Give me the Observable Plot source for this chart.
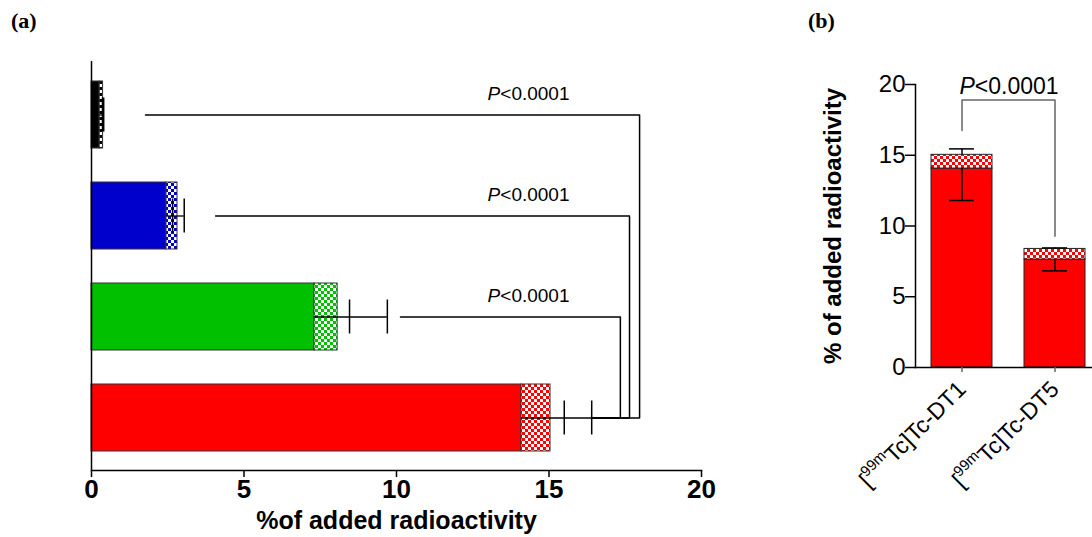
<!DOCTYPE html>
<html><head><meta charset="utf-8">
<script src="https://cdn.jsdelivr.net/npm/d3@7"></script>
<script src="https://cdn.jsdelivr.net/npm/@observablehq/plot@0.6"></script>
<style>
body{margin:0;background:#fff;}
#wrap{position:relative;width:1092px;height:537px;overflow:hidden;background:#fff;}
.panel{position:absolute;top:0;}
.plabel{position:absolute;font-family:"Liberation Serif","DejaVu Serif",serif;font-weight:bold;font-size:22px;color:#000;}
#pa svg g[aria-label="x-axis tick label"] text{font-weight:bold;font-size:26px;}
#pa svg g[aria-label="x-axis label"] text{font-weight:bold;font-size:25px;}
#pb svg g[aria-label="y-axis label"] text{font-weight:bold;font-size:24px;}
</style></head><body>
<div id="wrap">
  <div class="plabel" style="left:11px;top:8px">(a)</div>
  <div class="plabel" style="left:808px;top:8px">(b)</div>
  <div id="pa" class="panel" style="left:0"></div>
  <div id="pb" class="panel" style="left:760px"></div>
</div>
<script>
// ---------- Panel (a) data ----------
const rowsA = ["Row 1", "Row 2", "Row 3", "Row 4"];           // top to bottom
const colorsA = ["#000000", "#0000cc", "#00c000", "#ff0000"];
const solidA = [0.27, 2.46, 7.31, 14.1];
const totalA = [0.38, 2.82, 8.07, 15.05];
const errInnerA = [0.36, 2.66, 8.46, 15.5];
const errOuterA = [0.40, 3.04, 9.7, 16.4];
const bracketFromA = [1.77, 4.07, 10.13];
const bracketToA = [17.97, 17.64, 17.34];
const pTextA = "P<0.0001";
const pLabelXA = 14.33;
const xTicksA = [0, 5, 10, 15, 20];
const xTitleA = "%of added radioactivity";

// ---------- Panel (b) data ----------
const catsB = ["[99mTc]Tc-DT1", "[99mTc]Tc-DT5"];
const solidB = [14.06, 7.63];
const totalB = [15.03, 8.38];
const errLowB = [11.8, 6.83];
const errHighB = [15.45, 8.45];
const bracketXB = [catsB[0], catsB[0], catsB[1], catsB[1]];
const bracketYB = [16.75, 18.9, 18.9, 9.28];
const pTextB = "P<0.0001";
const pLabelYB = 19.85;
const yTicksB = [0, 5, 10, 15, 20];
const yTitleB = "% of added radioactivity";

// ---------- helpers ----------
function addPatterns(svg, list) {
  const ns = "http://www.w3.org/2000/svg";
  const defs = document.createElementNS(ns, "defs");
  let html = "";
  for (const {id, color} of list) {
    html += `<pattern id="${id}" width="6" height="6" patternUnits="userSpaceOnUse">` +
      `<rect width="6" height="6" fill="#fff"/>` +
      `<rect width="3" height="3" fill="${color}"/>` +
      `<rect x="3" y="3" width="3" height="3" fill="${color}"/></pattern>`;
  }
  defs.innerHTML = html;
  svg.insertBefore(defs, svg.firstChild);
}
function italicP(svg, txt) {
  d3.select(svg).selectAll("text").each(function() {
    if (this.textContent === txt) {
      const sel = d3.select(this);
      sel.text(null);
      sel.append("tspan").attr("font-style", "italic").text(txt[0]);
      sel.append("tspan").text(txt.slice(1));
    }
  });
}

// ---------- Panel (a) ----------
const A = rowsA.map((r, i) => ({
  row: r, color: colorsA[i], pat: `url(#chkA${i})`,
  solid: solidA[i], total: totalA[i], inner: errInnerA[i], outer: errOuterA[i]
}));
const bracketsA = bracketFromA.flatMap((x0, i) => [
  {g: i, x: x0, y: rowsA[i]},
  {g: i, x: bracketToA[i], y: rowsA[i]},
  {g: i, x: bracketToA[i], y: rowsA[3]},
  {g: i, x: errOuterA[3], y: rowsA[3]}
]);
const pLabelsA = rowsA.slice(0, 3).map(r => ({row: r, x: pLabelXA, t: pTextA}));

const svgA = Plot.plot({
  width: 760, height: 537,
  marginLeft: 91, marginRight: 59, marginTop: 61, marginBottom: 67,
  style: {fontFamily: "'Liberation Sans', Arial, sans-serif", background: "transparent", overflow: "visible", color: "#000"},
  x: {domain: [0, 20]},
  y: {domain: rowsA, paddingInner: 0.34, paddingOuter: 0.18, axis: null},
  color: {type: "identity"},
  marks: [
    Plot.barX(A, {y: "row", x: "solid", fill: "color", stroke: "#333", strokeWidth: 1}),
    Plot.barX(A, {y: "row", x1: "solid", x2: "total", fill: "pat", stroke: "#333", strokeWidth: 1}),
    Plot.ruleY(A, {y: "row", x1: "solid", x2: "outer", stroke: "#000", strokeWidth: 1.3}),
    Plot.tickX(A, {y: "row", x: "inner", insetTop: 16.5, insetBottom: 16.5, stroke: "#000", strokeWidth: 1.5}),
    Plot.tickX(A, {y: "row", x: "outer", insetTop: 16.5, insetBottom: 16.5, stroke: "#000", strokeWidth: 1.5}),
    Plot.line(bracketsA, {x: "x", y: "y", z: "g", stroke: "#000", strokeWidth: 1.5}),
    Plot.text(pLabelsA, {x: "x", y: "row", text: "t", dy: -21, fontSize: 19, fill: "#000"}),
    Plot.ruleX([0], {stroke: "#000", strokeWidth: 1.5}),
    Plot.frame({anchor: "bottom", stroke: "#000", strokeWidth: 1.5}),
    Plot.axisX({ticks: xTicksA, tickSize: 7, tickPadding: 2, fontSize: 26, strokeWidth: 1.5,
      label: xTitleA, labelAnchor: "center", labelOffset: 58, labelArrow: "none"})
  ]
});
addPatterns(svgA, colorsA.map((c, i) => ({id: `chkA${i}`, color: c})));
italicP(svgA, pTextA);
document.getElementById("pa").appendChild(svgA);

// ---------- Panel (b) ----------
const B = catsB.map((c, i) => ({
  cat: c, fill: "#ff0000", pat: "url(#chkB)",
  solid: solidB[i], total: totalB[i], low: errLowB[i], high: errHighB[i]
}));
const bracketB = bracketXB.map((x, i) => ({x, y: bracketYB[i]}));

const svgB = Plot.plot({
  width: 332, height: 537,
  marginLeft: 155, marginRight: 0, marginTop: 84, marginBottom: 170,
  style: {fontFamily: "'Liberation Sans', Arial, sans-serif", background: "transparent", overflow: "visible", color: "#000"},
  x: {domain: catsB, range: [155, 341], paddingInner: 0.34, paddingOuter: 0.16},
  y: {domain: [0, 20]},
  color: {type: "identity"},
  marks: [
    Plot.barY(B, {x: "cat", y: "solid", fill: "fill", stroke: "#222", strokeWidth: 1}),
    Plot.barY(B, {x: "cat", y1: "solid", y2: "total", fill: "pat", stroke: "#222", strokeWidth: 1}),
    Plot.ruleX(B, {x: "cat", y1: "low", y2: "solid", stroke: "#000", strokeWidth: 1.5}),
    Plot.ruleX(B, {x: "cat", y1: "total", y2: "high", stroke: "#000", strokeWidth: 1.5}),
    Plot.tickY(B, {x: "cat", y: "low", insetLeft: 18, insetRight: 18, stroke: "#000", strokeWidth: 1.5}),
    Plot.tickY(B, {x: "cat", y: "high", insetLeft: 18, insetRight: 18, stroke: "#000", strokeWidth: 1.5}),
    Plot.line(bracketB, {x: "x", y: "y", stroke: "#666", strokeWidth: 1.5}),
    Plot.text([{x: catsB[0], y: pLabelYB, t: pTextB}], {x: "x", y: "y", text: "t", dx: 47, fontSize: 23, fill: "#000"}),
    Plot.frame({anchor: "left", stroke: "#000", strokeWidth: 1.5}),
    Plot.frame({anchor: "bottom", stroke: "#000", strokeWidth: 1.5}),
    Plot.axisY({ticks: yTicksB, tickSize: 10, tickPadding: 0, fontSize: 24, strokeWidth: 1.5,
      label: yTitleB, labelAnchor: "center", labelOffset: 92, labelArrow: "none"}),
    Plot.axisX({tickSize: 5, tickPadding: 13, tickRotate: -45, fontSize: 23, stroke: "#666", strokeWidth: 1.5, label: null})
  ]
});
addPatterns(svgB, [{id: "chkB", color: "#ff0000"}]);
italicP(svgB, pTextB);
d3.select(svgB).selectAll('g[aria-label="x-axis tick label"] text').each(function() {
  const t = this.textContent;
  const m = t.match(/^\[(\d+m)(.*)$/);
  if (!m) return;
  const sel = d3.select(this);
  sel.text(null);
  sel.append("tspan").text("[");
  sel.append("tspan").attr("font-size", "15px").attr("dy", -10).text(m[1]);
  sel.append("tspan").attr("dy", 10).text(m[2]);
});
d3.select(svgB).selectAll('g[aria-label="x-axis tick label"] text').attr("fill", "#000");
document.getElementById("pb").appendChild(svgB);
</script>
</body></html>
